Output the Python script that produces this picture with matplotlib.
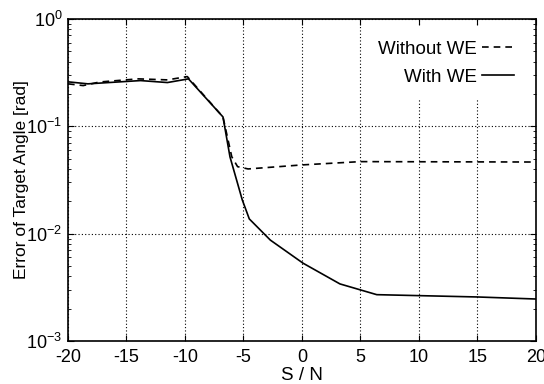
import matplotlib
matplotlib.use("Agg")
import matplotlib.pyplot as plt
from matplotlib.ticker import LogLocator, NullFormatter

plt.rcParams['font.family'] = ['Liberation Sans', 'DejaVu Sans']
plt.rcParams['mathtext.fontset'] = 'custom'
plt.rcParams['mathtext.rm'] = 'Liberation Sans'
plt.rcParams['mathtext.it'] = 'Liberation Sans'

# S/N values and error of target angle [rad]
snr_with = [-20, -18.3, -13.8, -11.5, -9.7, -6.75, -6.15, -5.1, -4.5, -2.7, 0.1, 3.25, 6.4, 15, 20]
err_with = [0.259, 0.248, 0.266, 0.255, 0.276, 0.122, 0.0518, 0.0206, 0.0137, 0.0087,
            0.0053, 0.0034, 0.0027, 0.00257, 0.00246]

snr_without = [-20, -18.7, -17.3, -14, -11.5, -9.8, -6.75, -6.0, -5.5, -4.6, 0, 5, 20]
err_without = [0.248, 0.239, 0.258, 0.276, 0.27, 0.29, 0.122, 0.052, 0.042, 0.040,
               0.0436, 0.0468, 0.0464]

xticks = [-20, -15, -10, -5, 0, 5, 10, 15, 20]
yticks = [1e-3, 1e-2, 1e-1, 1e0]
ytick_labels = [r'$10^{-3}$', r'$10^{-2}$', r'$10^{-1}$', r'$10^{0}$']


def main():
    fig = plt.figure(figsize=(5.44, 3.84), dpi=100)
    ax = fig.add_axes([0.125, 0.112, 0.86, 0.839])

    ax.plot(snr_without, err_without, color='black', lw=1.2,
            linestyle=(0, (4, 3)), label='Without WE')
    ax.plot(snr_with, err_with, color='black', lw=1.2, label='With WE')

    ax.set_yscale('log')
    ax.set_xlim(-20, 20)
    ax.set_ylim(1e-3, 1e0)
    ax.set_xticks(xticks)
    ax.set_xticklabels([str(t) for t in xticks])
    ax.set_yticks(yticks)
    ax.set_yticklabels(ytick_labels)
    ax.yaxis.set_minor_locator(LogLocator(base=10, subs=range(2, 10)))
    ax.yaxis.set_minor_formatter(NullFormatter())

    ax.tick_params(which='both', direction='in', top=True, right=True)
    ax.tick_params(axis='x', labelsize=13, pad=6)
    ax.tick_params(axis='y', labelsize=13, pad=4)
    ax.tick_params(which='major', length=4, width=0.8)
    ax.tick_params(which='minor', length=2, width=0.6)

    ax.grid(True, which='major', color='black', linestyle=(0, (1, 2)), lw=0.8)

    for s in ax.spines.values():
        s.set_linewidth(1.2)

    ax.set_xlabel('S / N', fontsize=13.5, labelpad=0.5)
    ax.set_ylabel('Error of Target Angle [rad]', fontsize=12.5, labelpad=-2)

    leg = ax.legend(loc='upper right', fontsize=13.5, markerfirst=False,
                    frameon=True, fancybox=False, framealpha=1,
                    edgecolor='none', facecolor='white', handlelength=1.7,
                    handletextpad=0.3, labelspacing=0.6,
                    borderaxespad=0.4, borderpad=0.75)
    leg.set_zorder(1.5)

    fig.savefig('out.png', dpi=100)


if __name__ == "__main__":
    main()
